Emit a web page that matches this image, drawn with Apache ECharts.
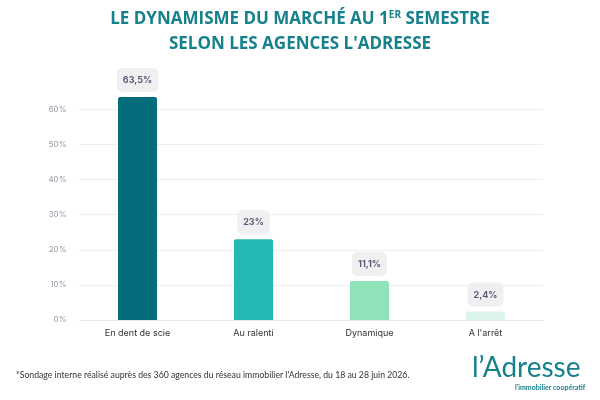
<!DOCTYPE html>
<html><head><meta charset="utf-8">
<script src="https://cdn.jsdelivr.net/npm/echarts@6/dist/echarts.min.js"></script>
<style>html,body{margin:0;padding:0;background:#fff}#c{width:600px;height:400px}</style>
</head><body><div id="c"></div>
<script>
const categories = ['En dent de scie', 'Au ralenti', 'Dynamique', "A l'arrêt"];
const values = [63.5, 23, 11.1, 2.4];
const valueLabels = ['63,5%', '23%', '11,1%', '2,4%'];
const barColors = ['#046d7b', '#22b8b5', '#8fe3b8', '#dcf4ea'];
const yTicks = [0, 10, 20, 30, 40, 50, 60];

const titleRich = {
  t: { fontFamily: 'Open Sans', fontWeight: 'bold', fontSize: 17, color: '#16808c' },
  s: { fontFamily: 'Open Sans', fontWeight: 'bold', fontSize: 10, color: '#16808c', padding: [0, 0, 8, 0] }
};
const chart = echarts.init(document.getElementById('c'));
chart.setOption({
  animation: false,
  title: [{
    text: '{t|LE DYNAMISME DU MARCHÉ AU 1}{s|ER}{t| SEMESTRE}',
    left: 'center', top: 5,
    textStyle: { rich: titleRich }
  }, {
    text: '{t|SELON LES AGENCES L\'ADRESSE}',
    left: 'center', top: 31,
    textStyle: { rich: titleRich }
  }, {
    text: '*Sondage interne réalisé auprès des 360 agences du réseau immobilier l\'Adresse, du 18 au 28 juin 2026.',
    left: 11, top: 366,
    textStyle: { fontFamily: 'Lato', fontSize: 8.7, fontWeight: 'normal', color: '#333' }
  }, {
    text: 'l\u2019Adresse',
    left: 467, top: 349,
    textStyle: { fontFamily: 'Lato', fontSize: 28, fontWeight: 'normal', color: '#16808c' }
  }, {
    text: 'l\'immobilier coopératif',
    left: 510, top: 379,
    textStyle: { fontFamily: 'Lato', fontSize: 7, fontWeight: 'bold', color: '#16808c' }
  }],
  grid: { left: 79.5, right: 56.5, top: 97, bottom: 80, containLabel: false },
  xAxis: {
    type: 'category', data: categories,
    axisLine: { show: true, lineStyle: { color: '#e6e6ea' } },
    axisTick: { show: false },
    axisLabel: { margin: 9, fontFamily: 'Inter', fontSize: 9, color: '#333' }
  },
  yAxis: {
    type: 'value', min: 0, max: 63.5, interval: 10,
    axisLine: { show: false }, axisTick: { show: false },
    axisLabel: { showMaxLabel: false, margin: 13, fontFamily: 'Inter', fontSize: 8, color: '#9a9aa8', formatter: v => yTicks.includes(v) ? v + '%' : '' },
    splitLine: { show: true, showMaxLine: false, lineStyle: { color: '#eeeef0' } }
  },
  series: [{
    type: 'bar', barWidth: 39,
    data: values.map((v, i) => ({ value: v, itemStyle: { color: barColors[i], borderRadius: [2,2,0,0] } })),
    label: {
      show: true, position: 'top', distance: 5,
      formatter: p => valueLabels[p.dataIndex],
      fontFamily: 'Inter', fontWeight: 'bold', fontSize: 9, color: '#5b5b78',
      backgroundColor: '#f0f0f2', borderRadius: 5, padding: [8, 6, 7, 6]
    }
  }]
});
</script></body></html>
